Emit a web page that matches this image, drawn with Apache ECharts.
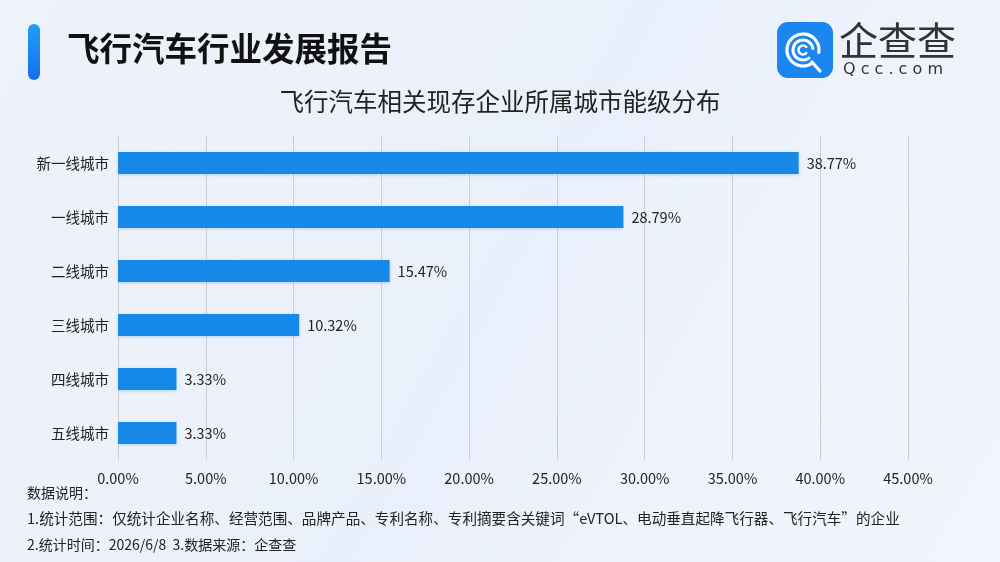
<!DOCTYPE html>
<html>
<head>
  <meta charset="utf-8">
  <title>飞行汽车行业发展报告</title>
  <script src="https://cdn.jsdelivr.net/npm/echarts@6/dist/echarts.min.js"></script>
  <style>
    html, body { margin: 0; padding: 0; }
    #chart { width: 1000px; height: 562px; }
  </style>
</head>
<body>
  <div id="chart"></div>

  <script>
    // 城市能级分类 & 占比(%)
    let cities = ['新一线城市', '一线城市', '二线城市', '三线城市', '四线城市', '五线城市'];
    let shares = [38.77, 28.79, 15.47, 10.32, 3.33, 3.33];
    let notes = [
      '数据说明：',
      '1.统计范围：仅统计企业名称、经营范围、品牌产品、专利名称、专利摘要含关键词“eVTOL、电动垂直起降飞行器、飞行汽车”的企业',
      '2.统计时间：2026/6/8  3.数据来源：企查查'
    ];

    let font = '"Noto Sans CJK SC", "Noto Sans", sans-serif';
    let myChart = echarts.init(document.getElementById('chart'));

    let option = {
      backgroundColor: {
        type: 'linear', x: 0, y: 0, x2: 1, y2: 1,
        colorStops: [
          { offset: 0, color: '#eef2f9' },
          { offset: 0.5, color: '#eaf0fb' },
          { offset: 1, color: '#f2f5fb' }
        ]
      },
      textStyle: { fontFamily: font },
      title: [
        {
          text: '飞行汽车行业发展报告',
          left: 62, top: 27,
          textStyle: { fontSize: 32.5, fontWeight: 'bold', color: '#111', fontFamily: font }
        },
        {
          text: '飞行汽车相关现存企业所属城市能级分布',
          left: 'center', top: 84,
          textStyle: { fontSize: 24.5, fontWeight: 'normal', color: '#222', fontFamily: font }
        }
      ],
      grid: { left: 118, right: 92, top: 136, bottom: 102 },
      xAxis: {
        type: 'value',
        min: 0, max: 45, interval: 5,
        axisLine: { show: false },
        axisTick: { show: false },
        splitLine: { lineStyle: { color: '#c9ced6', width: 1 } },
        axisLabel: {
          formatter: function (v) { return v.toFixed(2) + '%'; },
          color: '#222', fontSize: 14.5, margin: 11, fontFamily: font
        }
      },
      yAxis: {
        type: 'category',
        data: cities,
        inverse: true,
        axisLine: { show: false },
        axisTick: { show: false },
        axisLabel: { color: '#222', fontSize: 14.5, margin: 9, fontFamily: font }
      },
      series: [
        {
          type: 'bar',
          data: shares,
          barWidth: 22,
          itemStyle: {
            color: '#1789e8',
            shadowColor: 'rgba(20, 110, 200, 0.25)',
            shadowBlur: 3,
            shadowOffsetY: 1
          },
          label: {
            show: true,
            position: 'right',
            distance: 8,
            formatter: function (p) { return p.value.toFixed(2) + '%'; },
            color: '#222', fontSize: 14.5, fontFamily: font
          }
        }
      ],
      graphic: [
        // 标题左侧蓝条
        {
          type: 'rect',
          shape: { x: 28, y: 24, width: 12, height: 56, r: 6 },
          style: {
            fill: {
              type: 'linear', x: 0, y: 0, x2: 0, y2: 1,
              colorStops: [{ offset: 0, color: '#1ea0f5' }, { offset: 1, color: '#1670ee' }]
            }
          }
        },
        // 企查查 logo
        {
          type: 'rect',
          shape: { x: 777, y: 22, width: 56, height: 56, r: 11 },
          style: { fill: '#1b86f0' }
        },
        {
          type: 'arc',
          shape: { cx: 803, cy: 50, r: 16, startAngle: Math.PI * 0.3, endAngle: Math.PI * 2.05 },
          style: { stroke: '#fff', lineWidth: 3.2, fill: null, lineCap: 'round' }
        },
        {
          type: 'arc',
          shape: { cx: 803, cy: 50, r: 10, startAngle: Math.PI * 0.3, endAngle: Math.PI * 1.95 },
          style: { stroke: '#fff', lineWidth: 3, fill: null, lineCap: 'round' }
        },
        {
          type: 'arc',
          shape: { cx: 803, cy: 50, r: 4.5, startAngle: Math.PI * 0.25, endAngle: Math.PI * 1.75 },
          style: { stroke: '#fff', lineWidth: 2.6, fill: null, lineCap: 'round' }
        },
        {
          type: 'line',
          shape: { x1: 812, y1: 62, x2: 820, y2: 71 },
          style: { stroke: '#fff', lineWidth: 3.2, lineCap: 'round' }
        },
        {
          type: 'text',
          left: 839, top: 21,
          style: { text: '企查查', fontSize: 39, fill: '#333', fontFamily: font, fontWeight: 'normal' }
        },
        {
          type: 'text',
          left: 843, top: 62,
          style: { text: 'Q c c . c o m', fontSize: 16, fill: '#333', fontFamily: 'DejaVu Sans' }
        },
        // 数据说明
        {
          type: 'text',
          left: 27, top: 486,
          style: { text: notes[0], fontSize: 14, fill: '#222', fontFamily: font }
        },
        {
          type: 'text',
          left: 27, top: 511,
          style: { text: notes[1], fontSize: 14.6, fill: '#222', fontFamily: font }
        },
        {
          type: 'text',
          left: 27, top: 538,
          style: { text: notes[2], fontSize: 14, fill: '#222', fontFamily: font }
        }
      ]
    };
    myChart.setOption(option);
  </script>
</body>
</html>
